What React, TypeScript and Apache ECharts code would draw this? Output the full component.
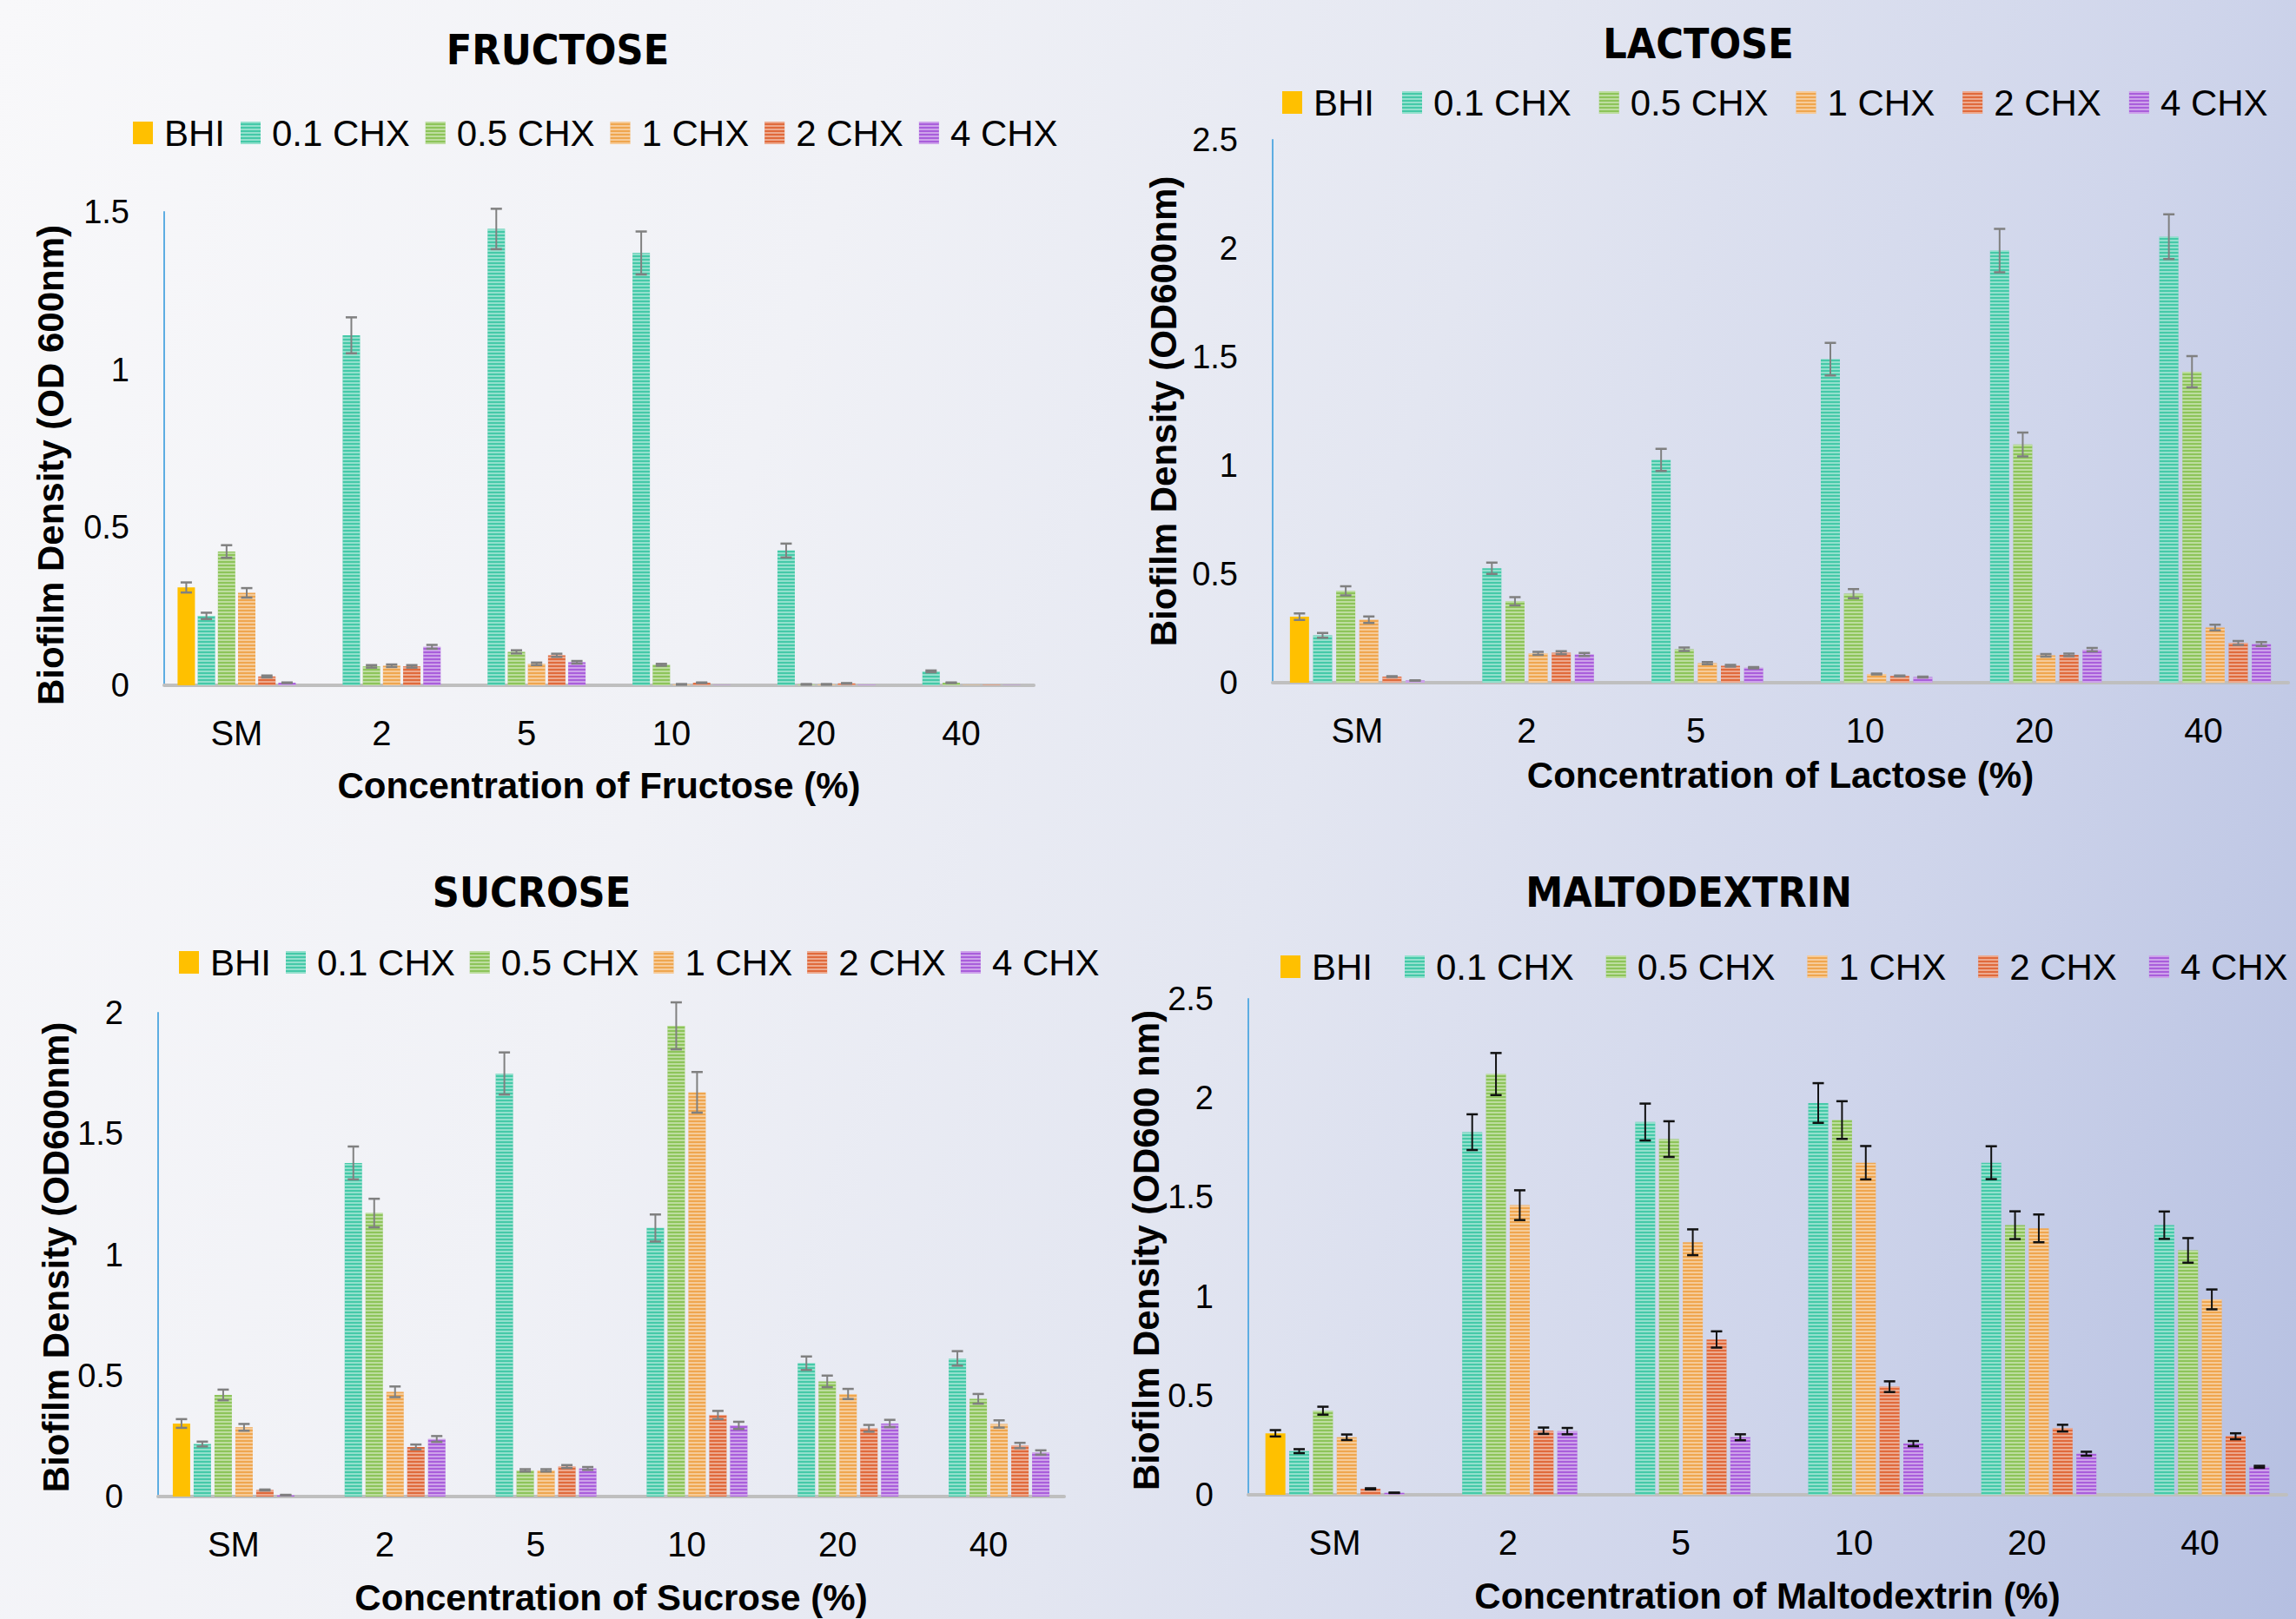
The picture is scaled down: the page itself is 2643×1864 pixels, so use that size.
import React, { useEffect, useRef } from 'react';
import * as echarts from 'echarts';

const W = 2643;
const H = 1864;

const categories = ['SM', '2', '5', '10', '20', '40'];
const seriesNames = ['BHI', '0.1 CHX', '0.5 CHX', '1 CHX', '2 CHX', '4 CHX'];
const seriesColors = ['#FFC000', '#45C9A8', '#8DC45A', '#EFA64F', '#E06A3C', '#A95EDB'];

// values per series (rows) across categories (columns)
const fructoseValues = [
  [0.31, null, null, null, null, null],
  [0.22, 1.109, 1.446, 1.37, 0.427, 0.044],
  [0.424, 0.06, 0.106, 0.065, 0.003, 0.008],
  [0.293, 0.062, 0.068, 0.003, 0.003, 0.001],
  [0.028, 0.06, 0.095, 0.008, 0.006, 0.002],
  [0.008, 0.122, 0.073, 0.001, 0.002, 0.001],
];
const fructoseErrors = [
  [0.016, 0, 0, 0, 0, 0],
  [0.01, 0.057, 0.064, 0.068, 0.022, 0.003],
  [0.02, 0.004, 0.005, 0.003, 0.001, 0.001],
  [0.015, 0.004, 0.004, 0.001, 0.001, 0],
  [0.003, 0.004, 0.005, 0.001, 0.001, 0],
  [0.001, 0.006, 0.004, 0, 0, 0],
];

const lactoseValues = [
  [0.304, null, null, null, null, null],
  [0.218, 0.527, 1.026, 1.49, 1.99, 2.054],
  [0.423, 0.375, 0.154, 0.41, 1.097, 1.432],
  [0.29, 0.135, 0.09, 0.04, 0.126, 0.254],
  [0.028, 0.138, 0.078, 0.031, 0.128, 0.183],
  [0.01, 0.13, 0.069, 0.026, 0.152, 0.178],
];
const lactoseErrors = [
  [0.015, 0, 0, 0, 0, 0],
  [0.011, 0.026, 0.051, 0.075, 0.1, 0.103],
  [0.021, 0.019, 0.008, 0.021, 0.055, 0.072],
  [0.015, 0.007, 0.005, 0.002, 0.006, 0.013],
  [0.002, 0.007, 0.004, 0.002, 0.006, 0.009],
  [0.001, 0.007, 0.003, 0.002, 0.008, 0.009],
];

const sucroseValues = [
  [0.302, null, null, null, null, null],
  [0.217, 1.379, 1.749, 1.11, 0.551, 0.571],
  [0.42, 1.172, 0.108, 1.946, 0.476, 0.404],
  [0.286, 0.433, 0.108, 1.671, 0.424, 0.3],
  [0.027, 0.205, 0.124, 0.337, 0.282, 0.211],
  [0.006, 0.238, 0.116, 0.294, 0.302, 0.182],
];
const sucroseErrors = [
  [0.018, 0, 0, 0, 0, 0],
  [0.01, 0.068, 0.087, 0.056, 0.028, 0.03],
  [0.022, 0.059, 0.005, 0.097, 0.024, 0.02],
  [0.014, 0.022, 0.005, 0.084, 0.021, 0.015],
  [0.002, 0.01, 0.006, 0.017, 0.014, 0.011],
  [0.001, 0.012, 0.006, 0.015, 0.015, 0.009],
];

const maltodextrinValues = [
  [0.31, null, null, null, null, null],
  [0.22, 1.828, 1.879, 1.975, 1.674, 1.359],
  [0.424, 2.121, 1.793, 1.889, 1.359, 1.232],
  [0.29, 1.46, 1.273, 1.674, 1.343, 0.985],
  [0.03, 0.323, 0.783, 0.545, 0.336, 0.295],
  [0.01, 0.321, 0.29, 0.258, 0.207, 0.141],
];
const maltodextrinErrors = [
  [0.016, 0, 0, 0, 0, 0],
  [0.01, 0.09, 0.093, 0.1, 0.083, 0.069],
  [0.02, 0.106, 0.09, 0.095, 0.07, 0.062],
  [0.014, 0.075, 0.065, 0.084, 0.07, 0.05],
  [0.003, 0.016, 0.041, 0.027, 0.017, 0.015],
  [0.001, 0.016, 0.015, 0.013, 0.01, 0.005],
];

const FONT = '"Liberation Sans", Arial, sans-serif';
const TITLE_FONT = '"Liberation Sans Narrow", "DejaVu Sans Condensed", "Liberation Sans", sans-serif';

const panels = [
  {
    title: 'FRUCTOSE', xName: 'Concentration of Fructose (%)', yName: 'Biofilm Density (OD 600nm)',
    values: fructoseValues, errors: fructoseErrors, yMax: 1.5, errColor: '#808080',
    grid: { left: 189, top: 244, width: 1001, height: 545 },
    titlePos: [642, 57], legendPos: [153, 153], legendGap: 18,
    barWidth: 20, gapRatio: 0.16, xNameGap: 94, yNameGap: 110, yNamePad: 38,
  },
  {
    title: 'LACTOSE', xName: 'Concentration of Lactose (%)', yName: 'Biofilm Density (OD600nm)',
    values: lactoseValues, errors: lactoseErrors, yMax: 2.5, errColor: '#808080',
    grid: { left: 1465, top: 161, width: 1169, height: 625 },
    titlePos: [1955, 50], legendPos: [1476, 118], legendGap: 32,
    barWidth: 22, gapRatio: 0.21, xNameGap: 85, yNameGap: 105, yNamePad: 0,
  },
  {
    title: 'SUCROSE', xName: 'Concentration of Sucrose (%)', yName: 'Biofilm Density (OD600nm)',
    values: sucroseValues, errors: sucroseErrors, yMax: 2, errColor: '#808080',
    grid: { left: 182, top: 1166, width: 1043, height: 557 },
    titlePos: [612, 1027], legendPos: [206, 1108], legendGap: 17,
    barWidth: 20, gapRatio: 0.2, xNameGap: 95, yNameGap: 86, yNamePad: 6,
  },
  {
    title: 'MALTODEXTRIN', xName: 'Concentration of Maltodextrin (%)', yName: 'Biofilm Density (OD600 nm)',
    values: maltodextrinValues, errors: maltodextrinErrors, yMax: 2.5, errColor: '#111111',
    grid: { left: 1437, top: 1150, width: 1195, height: 571 },
    titlePos: [1944, 1027], legendPos: [1474, 1113], legendGap: 37,
    barWidth: 23, gapRatio: 0.19, xNameGap: 95, yNameGap: 78, yNamePad: 8,
  },
];

function buildOption() {
  const title: any[] = [];
  const legend: any[] = [];
  const grid: any[] = [];
  const xAxis: any[] = [];
  const yAxis: any[] = [];
  const series: any[] = [];

  panels.forEach((p, i) => {
    title.push({
      text: p.title,
      left: p.titlePos[0],
      top: p.titlePos[1],
      textAlign: 'center',
      textVerticalAlign: 'middle',
      padding: 0,
      textStyle: { fontFamily: TITLE_FONT, fontWeight: 'bold', fontSize: 48, color: '#000' },
    });
    legend.push({
      data: seriesNames,
      left: p.legendPos[0],
      top: p.legendPos[1] - 21,
      itemGap: p.legendGap,
      itemWidth: 23,
      itemHeight: 26,
      icon: 'rect',
      padding: 0,
      selectedMode: false,
      textStyle: { fontFamily: FONT, fontSize: 42, color: '#000', padding: [0, 0, 0, 8] },
    });
    grid.push({ ...p.grid, containLabel: false });
    xAxis.push({
      type: 'category',
      gridIndex: i,
      data: categories,
      axisTick: { show: false },
      axisLine: { lineStyle: { color: '#BFBFBF', width: 4 } },
      axisLabel: { fontFamily: FONT, fontSize: 40, color: '#000', margin: 35 },
      name: p.xName,
      nameLocation: 'middle',
      nameGap: p.xNameGap,
      nameTextStyle: { fontFamily: FONT, fontSize: 42, fontWeight: 'bold', color: '#000' },
    });
    yAxis.push({
      type: 'value',
      gridIndex: i,
      min: 0,
      max: p.yMax,
      interval: 0.5,
      splitLine: { show: false },
      axisTick: { show: false },
      axisLine: { show: true, lineStyle: { color: '#5DADE2', width: 2 } },
      axisLabel: { fontFamily: FONT, fontSize: 38, color: '#000', margin: 40 },
      name: p.yName,
      nameLocation: 'middle',
      nameGap: p.yNameGap,
      nameTextStyle: {
        fontFamily: FONT, fontSize: 42, fontWeight: 'bold', color: '#000',
        padding: [0, p.yNamePad, 0, 0],
      },
    });

    const pitch = p.barWidth * (1 + p.gapRatio);
    seriesNames.forEach((name, k) => {
      series.push({
        type: 'bar',
        name,
        xAxisIndex: i,
        yAxisIndex: i,
        data: p.values[k],
        barWidth: p.barWidth,
        barGap: `${Math.round(p.gapRatio * 100)}%`,
        silent: true,
        itemStyle: {
          color: seriesColors[k],
          decal: k === 0 ? undefined : {
            symbol: 'rect',
            symbolSize: 1,
            color: 'rgba(255,255,255,0.42)',
            dashArrayX: [10, 0],
            dashArrayY: [2, 2],
            rotation: 0,
          },
        },
      });
      const off = (k - 2.5) * pitch;
      const data = p.values[k]
        .map((v, c) => (v == null ? null : [c, v, p.errors[k][c] || 0]))
        .filter((d) => d !== null);
      series.push({
        type: 'custom',
        name: `err-${i}-${k}`,
        xAxisIndex: i,
        yAxisIndex: i,
        silent: true,
        z: 5,
        data,
        renderItem: (params: any, api: any) => {
          const c = api.value(0);
          const v = api.value(1);
          const e = api.value(2);
          if (!(e > 0)) return null;
          const base = api.coord([c, v]);
          const x = base[0] + off;
          const yTop = api.coord([c, v + e])[1];
          const yBot = api.coord([c, Math.max(0, v - e)])[1];
          const hw = 6.5;
          const st = { stroke: p.errColor, lineWidth: 2.5 };
          return {
            type: 'group',
            children: [
              { type: 'line', shape: { x1: x, y1: yTop, x2: x, y2: yBot }, style: { stroke: p.errColor, lineWidth: 2 } },
              { type: 'line', shape: { x1: x - hw, y1: yTop, x2: x + hw, y2: yTop }, style: st },
              { type: 'line', shape: { x1: x - hw, y1: yBot, x2: x + hw, y2: yBot }, style: st },
            ],
          };
        },
      });
    });
  });

  return {
    animation: false,
    backgroundColor: 'transparent',
    title,
    legend,
    grid,
    xAxis,
    yAxis,
    series,
  };
}

export default function App() {
  const ref = useRef<HTMLDivElement>(null);
  useEffect(() => {
    if (!ref.current) return;
    const chart = echarts.init(ref.current, undefined, { renderer: 'svg', width: W, height: H });
    chart.setOption(buildOption() as any);
    return () => chart.dispose();
  }, []);
  return (
    <div
      style={{
        position: 'fixed',
        left: 0,
        top: 0,
        width: W,
        height: H,
        background:
          'linear-gradient(108deg, #f8f8fa 0%, #f0f1f6 32%, #e3e6f1 55%, #cfd5eb 78%, #b5bfe1 100%)',
      }}
    >
      <div ref={ref} style={{ width: W, height: H }} />
    </div>
  );
}
